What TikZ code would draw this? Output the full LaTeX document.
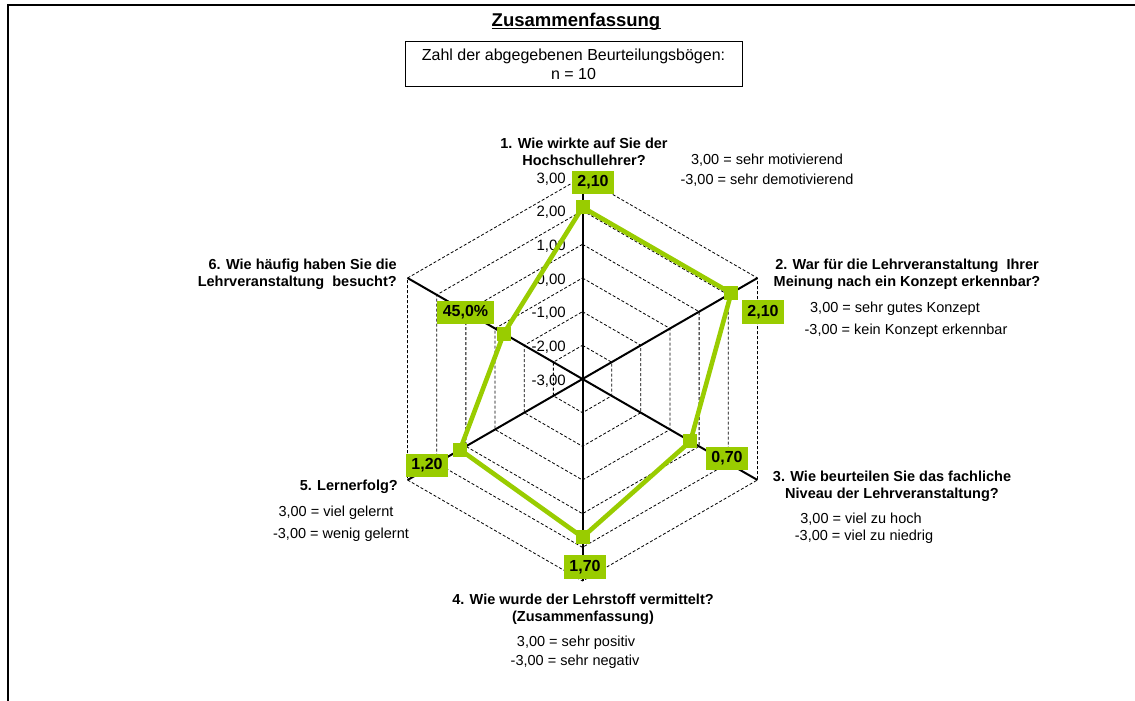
\documentclass[tikz,border=0pt]{standalone}
\usepackage{fontspec}
\setmainfont{Liberation Sans}
\definecolor{lime}{HTML}{99CC00}
\begin{document}
\begin{tikzpicture}[x=1pt,y=-1pt,
  frameline/.style={draw=black, line width=2pt},
  ring/.style={draw=black, line width=0.8pt, dash pattern=on 3pt off 2pt},
  axisline/.style={draw=black, line width=2pt},
  dataline/.style={draw=lime, line width=4.6pt, line join=miter},
  marker/.style={rectangle, fill=lime, draw=none, minimum size=14pt, inner sep=0pt},
  valbox/.style={rectangle, fill=lime, inner xsep=5.5pt, inner ysep=0pt, minimum height=23.5pt, font=\fontsize{16}{18}\selectfont\bfseries},
  ticklbl/.style={anchor=east, inner sep=0pt, font=\fontsize{15}{17}\selectfont},
  qlbl/.style={align=center, inner sep=0pt, font=\fontsize{14.5}{17}\selectfont\bfseries},
  note/.style={inner sep=0pt, font=\fontsize{14.5}{17}\selectfont},
  titlelbl/.style={inner sep=0pt, font=\fontsize{18.5}{20}\selectfont\bfseries},
  uline/.style={draw=black, line width=1.6pt},
  nboxlbl/.style={align=center, inner sep=0pt, font=\fontsize{16}{19}\selectfont}
]
\useasboundingbox (0,0) rectangle (1135,701);
% frame
\coordinate (FL) at (8,701);
\coordinate (FC) at (8,5);
\coordinate (FR) at (1135,5);
\draw[frameline] (FL) -- (FC) -- (FR);

% title and count box
\node[titlelbl] (title) at (576,22) {Zusammenfassung};
\draw[uline] ([yshift=-1.8pt]title.base west) -- ([yshift=-1.8pt]title.base east);
\node[draw=black, line width=1pt, minimum width=337pt, minimum height=44pt, inner sep=0pt] (nbox) at (573.5,64) {};
\node[nboxlbl] (nboxtext) at (nbox.center) {Zahl der abgegebenen Beurteilungsbögen:\\n = 10};

% radar grid
\begin{scope}[shift={(582.5,379)}]
  \coordinate (C) at (0,0);
  \foreach \i in {1,...,6} {
    \pgfmathsetmacro\rr{\i*202/6}
    \draw[ring] (-90:\rr) -- (-30:\rr) -- (30:\rr) -- (90:\rr) -- (150:\rr) -- (210:\rr) -- cycle;
  }
  \foreach \a/\n in {-90/1,-30/2,30/3,90/4,150/5,210/6} {
    \coordinate (V\n) at (\a:202);
  }
  \coordinate (P1) at (-90:171.7);
  \coordinate (P2) at (-30:171.7);
  \coordinate (P3) at (30:124.6);
  \coordinate (P4) at (90:158.2);
  \coordinate (P5) at (150:141.4);
  \coordinate (P6) at (210:90.9);
\end{scope}
\foreach \n in {1,...,6} {
  \draw[axisline] (C) -- (V\n);
}

% tick labels
\foreach \v/\t [count=\k from 0] in {3/3{,}00,2/2{,}00,1/1{,}00,0/0{,}00,-1/-1{,}00,-2/-2{,}00,-3/-3{,}00} {
  \pgfmathsetmacro\yy{379-(\v+3)*202/6+2}
  \node[ticklbl] (tick\k) at (566,\yy) {\t};
}

% data polygon
\draw[dataline] (P1) -- (P2) -- (P3) -- (P4) -- (P5) -- (P6) -- cycle;
\foreach \n in {1,...,6} {
  \node[marker] (M\n) at (P\n) {};
}

% value boxes
\node[valbox] (val1) at (593,182.5) {2,10};
\node[valbox] (val2) at (763,312) {2,10};
\node[valbox] (val3) at (727,458.5) {0,70};
\node[valbox] (val4) at (585,567) {1,70};
\node[valbox] (val5) at (427,465.5) {1,20};
\node[valbox] (val6) at (465.5,312.5) {45,0\%};

% axis 1
\node[qlbl] (q1) at (584,151.5) {1. Wie wirkte auf Sie der\\Hochschullehrer?};
\node[note] (n1a) at (767,160) {3,00 = sehr motivierend};
\node[note] (n1b) at (767,180) {-3,00 = sehr demotivierend};
% axis 2
\node[qlbl] (q2) at (907,274.5) {2. War für die Lehrveranstaltung\ \ Ihrer\\Meinung nach ein Konzept erkennbar?};
\node[note] (n2a) at (895,309) {3,00 = sehr gutes Konzept};
\node[note] (n2b) at (906,331) {-3,00 = kein Konzept erkennbar};
% axis 3
\node[qlbl] (q3) at (892,486) {3. Wie beurteilen Sie das fachliche\\Niveau der Lehrveranstaltung?};
\node[note] (n3a) at (861,519) {3,00 = viel zu hoch};
\node[note] (n3b) at (864,537) {-3,00 = viel zu niedrig};
% axis 4
\node[qlbl] (q4) at (583,609.5) {4. Wie wurde der Lehrstoff vermittelt?\\(Zusammenfassung)};
\node[note] (n4a) at (576,643) {3,00 = sehr positiv};
\node[note] (n4b) at (575,662) {-3,00 = sehr negativ};
% axis 5
\node[qlbl, anchor=east] (q5) at (398,487) {5. Lernerfolg?};
\node[note] (n5a) at (336,513) {3,00 = viel gelernt};
\node[note] (n5b) at (341,535) {-3,00 = wenig gelernt};
% axis 6
\node[qlbl, align=right, anchor=east] (q6) at (397,274.5) {6. Wie häufig haben Sie die\\Lehrveranstaltung\ \ besucht?};
\end{tikzpicture}
\end{document}
